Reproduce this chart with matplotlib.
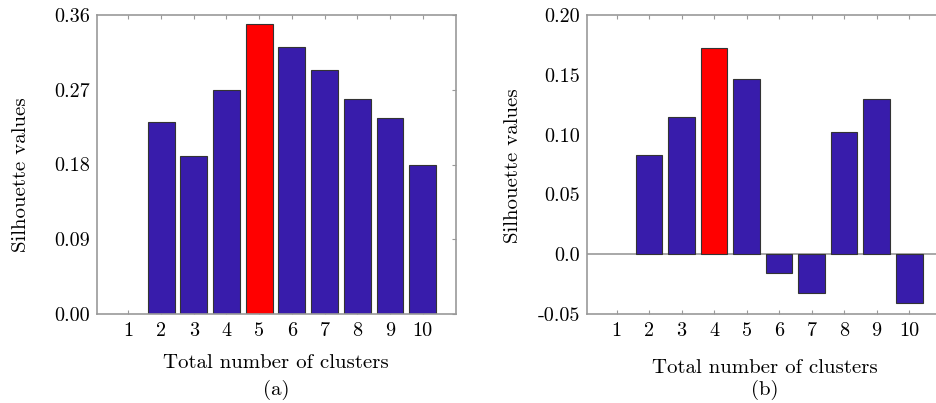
import matplotlib.pyplot as plt
import numpy as np

plt.rcParams['font.family'] = 'serif'
plt.rcParams['font.serif'] = ['cmr10']
plt.rcParams['axes.formatter.use_mathtext'] = True

clusters = [1, 2, 3, 4, 5, 6, 7, 8, 9, 10]
sil_a = [0.0, 0.231, 0.190, 0.270, 0.349, 0.321, 0.294, 0.259, 0.236, 0.180]
sil_b = [0.0, 0.0826, 0.1147, 0.1723, 0.1461, -0.0161, -0.0328, 0.1024, 0.1297, -0.0412]
best_a = 5
best_b = 4
yticks_a = [0.00, 0.09, 0.18, 0.27, 0.36]
yticklabels_a = ['0.00', '0.09', '0.18', '0.27', '0.36']
yticks_b = [-0.05, 0.0, 0.05, 0.10, 0.15, 0.20]
yticklabels_b = ['-0.05', '0.0', '0.05', '0.10', '0.15', '0.20']

blue = '#381cab'
red = '#ff0000'
gray = '#999999'

W, H = 936, 403
fig = plt.figure(figsize=(W / 100, H / 100), dpi=100)
ax1 = fig.add_axes([96.7 / W, 1 - 314 / H, (456 - 96.7) / W, 299 / H])
ax2 = fig.add_axes([587.3 / W, 1 - 314 / H, (941.7 - 587.3) / W, 299 / H])


def draw(ax, vals, best, yt, ytl, ylim, xlim, letter, xlab_y, ylab_x, ylab_y):
    colors = [red if c == best else blue for c in clusters]
    lws = [0 if v == 0 else 0.8 for v in vals]
    ax.bar(clusters, vals, width=0.82, color=colors, edgecolor='#333333', linewidth=lws, zorder=2)
    ax.set_xlim(*xlim)
    ax.set_ylim(*ylim)
    ax.set_xticks(clusters)
    ax.set_xticklabels([str(c) for c in clusters])
    ax.set_yticks(yt)
    ax.set_yticklabels(ytl)
    for s in ax.spines.values():
        s.set_color(gray)
        s.set_linewidth(1.2)
    ax.tick_params(axis='x', direction='in', length=3, color=gray, top=True, labelsize=14.5, pad=6)
    ax.tick_params(axis='y', direction='in', length=0, color=gray, right=True, labelsize=14.5, pad=5)
    for t in ax.yaxis.get_major_ticks():
        t.tick2line.set_markersize(3)
    ax.set_ylabel('Silhouette values', fontsize=15, va='center')
    ax.yaxis.set_label_coords(ylab_x, ylab_y)
    ax.set_xlabel('Total number of clusters', fontsize=15, va='center')
    ax.xaxis.set_label_coords(0.5, xlab_y)
    ax.text(0.5, -0.254, letter, transform=ax.transAxes, ha='center', va='center', fontsize=15)


draw(ax1, sil_a, best_a, yticks_a, yticklabels_a, (0, 0.36), (0.03, 11.02), '(a)', -0.165, -0.21, 0.465)
draw(ax2, sil_b, best_b, yticks_b, yticklabels_b, (-0.05, 0.20), (0.1, 11.0), '(b)', -0.18, -0.21, 0.495)
ax2.axhline(0, color=gray, linewidth=1.2, zorder=1)

fig.savefig('out.png', dpi=100)
